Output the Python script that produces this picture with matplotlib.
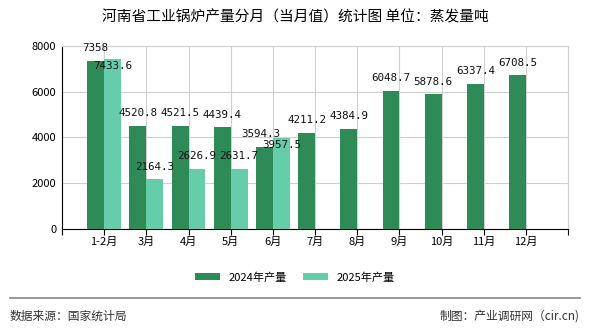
import numpy as np
import matplotlib.pyplot as plt
from matplotlib.lines import Line2D

plt.rcParams['font.family'] = ['Noto Sans CJK SC', 'DejaVu Sans']

months = ['1-2月', '3月', '4月', '5月', '6月', '7月', '8月', '9月', '10月', '11月', '12月']
prod_2024 = [7358, 4520.8, 4521.5, 4439.4, 3594.3, 4211.2, 4384.9, 6048.7, 5878.6, 6337.4, 6708.5]
prod_2025 = [7433.6, 2164.3, 2626.9, 2631.7, 3957.5]

c24 = '#2e8b57'
c25 = '#66cdaa'

fig = plt.figure(figsize=(5.9, 3.3), dpi=100)
ax = fig.add_axes([0.105, 0.306, 0.858, 0.555])

x24 = np.arange(len(prod_2024))
x25 = np.arange(len(prod_2025))
w = 0.4
ax.bar(x24 - w / 2, prod_2024, w, color=c24, label='2024年产量', zorder=3)
ax.bar(x25 + w / 2, prod_2025, w, color=c25, label='2025年产量', zorder=3)

num_font = dict(family='DejaVu Sans Mono', fontsize=7.8, color='#111111')
for i, (x, v) in enumerate(zip(x24, prod_2024)):
    dx = -3 if i == 4 else 0
    ax.annotate(f'{v:g}', (x - w / 2, v), xytext=(dx, 9), textcoords='offset points',
                ha='center', va='center', zorder=5, **num_font)
for i, (x, v) in enumerate(zip(x25, prod_2025)):
    dy = -5 if i in (0, 4) else 9
    ax.annotate(f'{v:g}', (x + w / 2, v), xytext=(0, dy), textcoords='offset points',
                ha='center', va='center', zorder=5, **num_font)

ax.set_xlim(-1, 11)
ax.set_ylim(0, 8000)
ax.set_xticks(np.arange(-1, 12))
ax.set_xticklabels([''] + months + [''], fontsize=8)
ax.set_yticks([0, 2000, 4000, 6000, 8000])
ax.set_yticklabels(['0', '2000', '4000', '6000', '8000'], fontsize=8)
ax.tick_params(axis='x', length=4, color='black', pad=2)
ax.tick_params(axis='y', length=0, pad=4)
ax.grid(True, color='#d0d0d0', linewidth=0.8, zorder=0)
for s in ['top', 'right']:
    ax.spines[s].set_color('#d0d0d0')
for s in ['left', 'bottom']:
    ax.spines[s].set_color('black')

fig.text(0.5, 0.948, '河南省工业锅炉产量分月（当月值）统计图 单位：蒸发量吨',
         ha='center', va='center', fontsize=10.6)

fig.legend(loc='center', bbox_to_anchor=(0.5, 0.16), ncol=2, frameon=False,
           fontsize=8, handlelength=2.2, handleheight=0.7, columnspacing=1.5)

fig.add_artist(Line2D([0.017, 0.983], [0.097, 0.097], color='#888888', linewidth=1.2))
fig.text(0.017, 0.042, '数据来源：国家统计局', ha='left', va='center', fontsize=8.5, color='#333333')
fig.text(0.983, 0.042, '制图：产业调研网（cir.cn)', ha='right', va='center', fontsize=8.5, color='#333333')

fig.savefig('out.png', dpi=100)
